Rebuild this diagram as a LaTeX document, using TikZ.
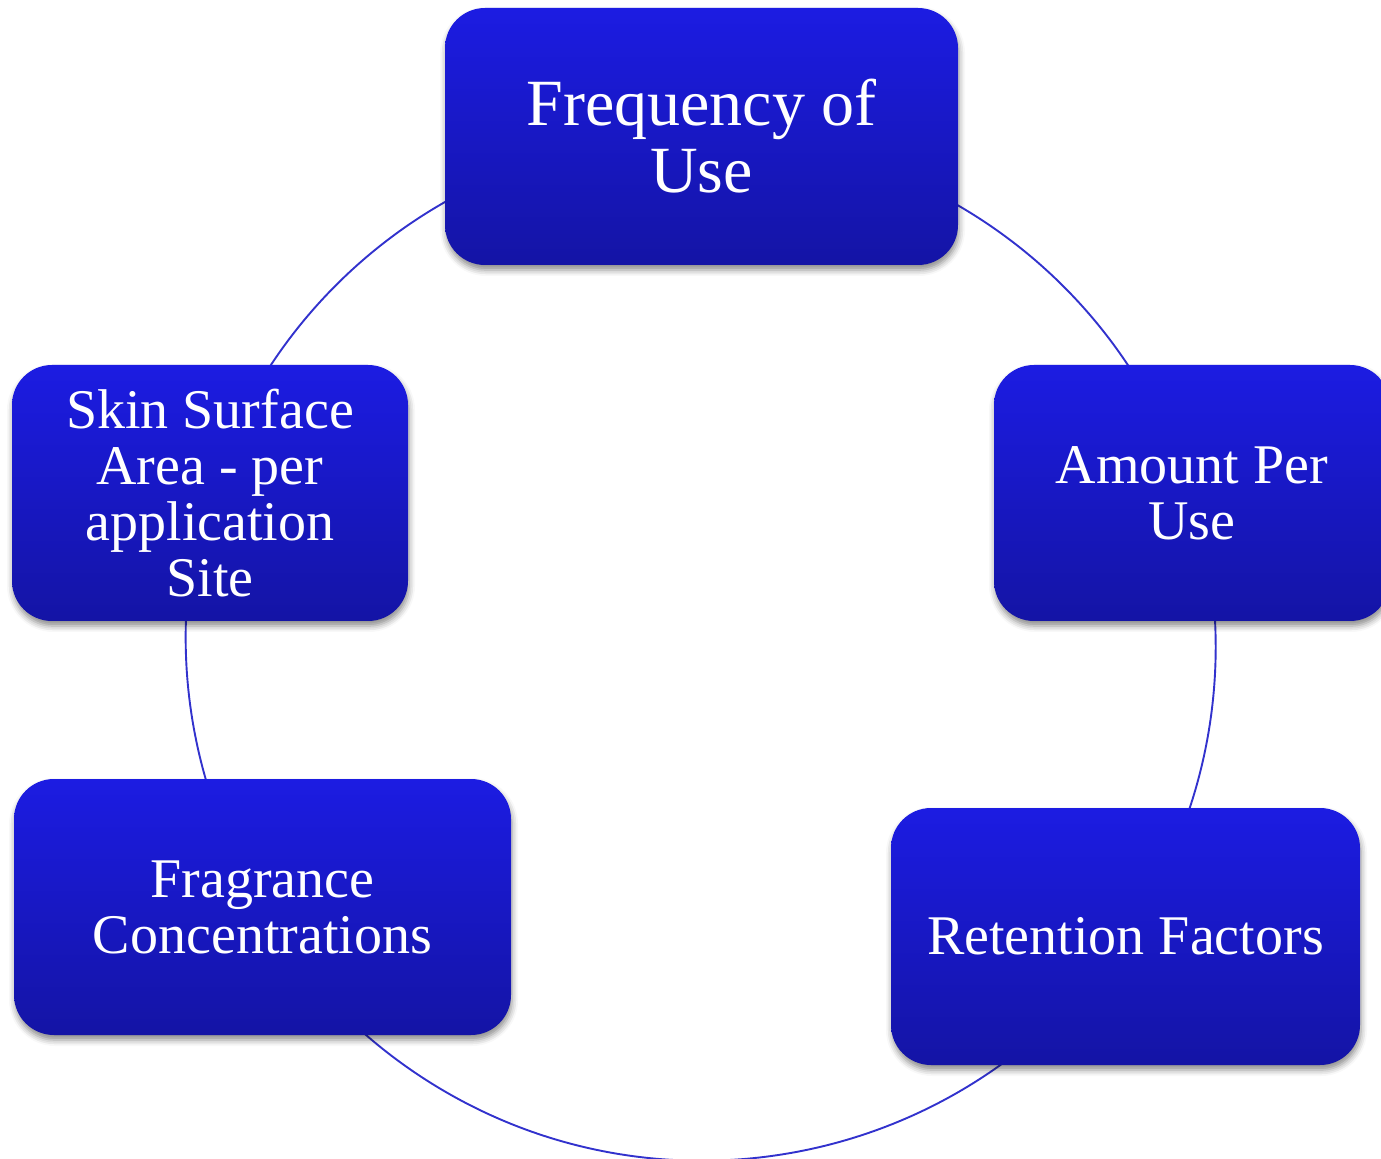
\documentclass[tikz,border=0pt]{standalone}
\usepackage{fontspec}
\setmainfont{Liberation Serif}
\usetikzlibrary{backgrounds,shadows.blur}
\definecolor{boxtop}{RGB}{28,28,226}
\definecolor{boxbot}{RGB}{20,20,165}
\definecolor{cycline}{RGB}{50,50,205}
\tikzset{
  cbox/.style={rectangle, rounded corners=20pt, inner sep=0pt,
    top color=boxtop, bottom color=boxbot, draw=none,
    text=white, align=center,
    blur shadow={shadow xshift=0.5pt, shadow yshift=-2.5pt, shadow blur radius=3pt, shadow opacity=45},
    font=\fontsize{28pt}{28pt}\selectfont},
  cyc/.style={draw=cycline, line width=0.95pt}
}
\begin{document}
\begin{tikzpicture}[x=0.5pt,y=0.5pt]
\useasboundingbox (0,0) rectangle (1381,1158);
\node[cbox, minimum width=256.5pt, minimum height=128.5pt,
      font=\fontsize{33pt}{33.5pt}\selectfont] (freq) at (701.5,1021.5) {Frequency of\\Use};
\node[cbox, minimum width=198pt, minimum height=128pt] (amount) at (1192,665) {Amount Per\\Use};
\node[cbox, minimum width=234.5pt, minimum height=128.5pt] (retention) at (1125.5,221.5) {Retention Factors};
\node[cbox, minimum width=248.5pt, minimum height=128pt] (fragrance) at (262.5,251) {Fragrance\\Concentrations};
\node[cbox, minimum width=198pt, minimum height=128pt] (skin) at (210,665) {Skin Surface\\Area - per\\application\\Site};
\begin{scope}[on background layer]
\draw[cyc] (freq.center) arc[start angle=90, end angle=17.5, radius=512];
\draw[cyc] (amount.center) arc[start angle=17.5, end angle=-34.2, radius=512];
\draw[cyc] (retention.center) arc[start angle=-34.2, end angle=-149.4, radius=512];
\draw[cyc] (fragrance.center) arc[start angle=211.8, end angle=163.5, radius=512];
\draw[cyc] (skin.center) arc[start angle=162.5, end angle=90, radius=512];
\end{scope}
\end{tikzpicture}
\end{document}
